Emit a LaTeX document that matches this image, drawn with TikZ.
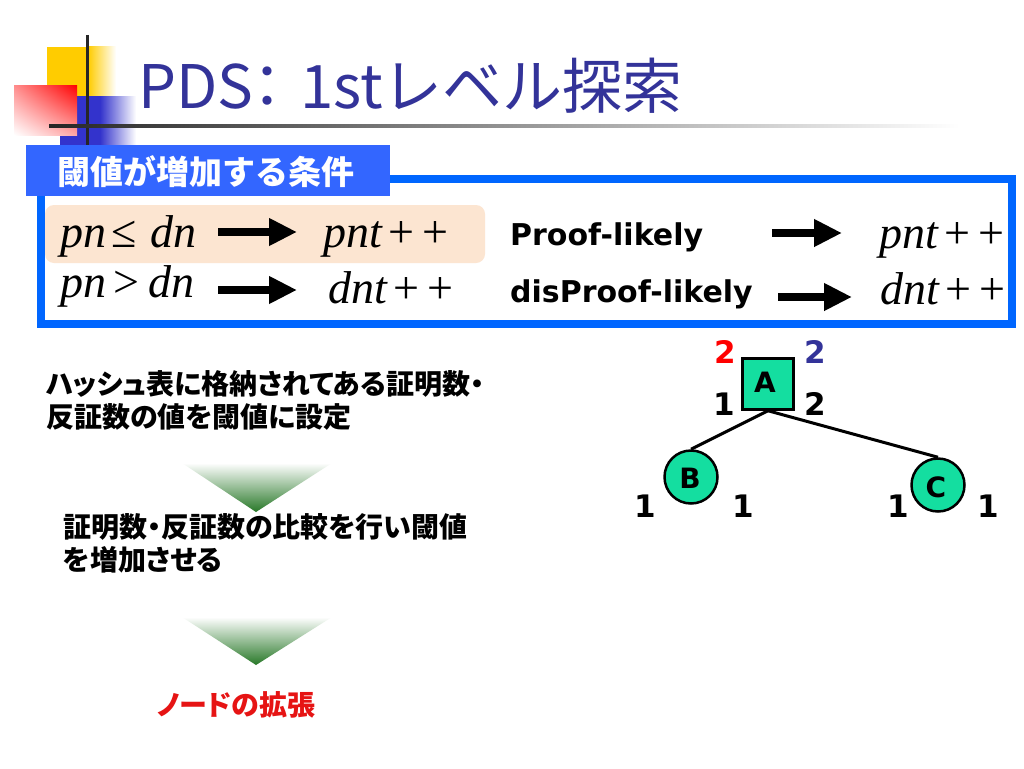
\documentclass[tikz,border=0pt]{standalone}
\usepackage{fontspec}
\usetikzlibrary{arrows.meta,shadings}
\newfontfamily\jp{Noto Sans CJK JP}
\newfontfamily\jpp[RawFeature=+palt]{Noto Sans CJK JP}
\newfontfamily\dvs{DejaVu Sans}
\newfontfamily\tms{Liberation Serif}
\definecolor{titleblue}{RGB}{51,51,153}
\definecolor{tabblue}{RGB}{51,102,255}
\definecolor{boxblue}{RGB}{0,102,255}
\definecolor{peach}{RGB}{252,229,209}
\definecolor{teal}{RGB}{20,222,160}
\definecolor{dgreen}{RGB}{40,120,40}
\definecolor{lred}{RGB}{230,20,20}
\definecolor{logoyellow}{RGB}{255,204,0}
\definecolor{logoblue}{RGB}{51,51,204}
\begin{document}
\begin{tikzpicture}[x=1pt,y=-1pt,
  mathtxt/.style={inner sep=0pt,anchor=base west,font=\tms\fontsize{46}{46}\selectfont},
  boldsans/.style={inner sep=0pt,anchor=base west,font=\dvs\bfseries\fontsize{30}{30}\selectfont},
  bigarrow/.style={line width=8pt,-{Triangle[length=28pt,width=26pt]}},
  jptxt/.style={inner sep=0pt,anchor=west,align=left,font=\jpp\bfseries\fontsize{28}{33}\selectfont},
  numlab/.style={inner sep=0pt,font=\dvs\bfseries\fontsize{31}{31}\selectfont},
  treeedge/.style={line width=3pt},
  gtri/.style={top color=white,bottom color=dgreen}
]
\useasboundingbox (0,0) rectangle (1024,768);
\fill[white] (0,0) rectangle (1024,768);
% logo
\fill[logoyellow] (47,47) rectangle (88,96);
\shade[left color=logoyellow,right color=white] (88,47) rectangle (116,96);
\fill[logoblue] (60,96) rectangle (100,145);
\shade[left color=logoblue,right color=white] (100,96) rectangle (136,145);
\shade[upper right=red,upper left=red!45,lower right=red!35,lower left=white] (14,85) rectangle (77,135);
\draw[line width=3pt,black!85] (87,35) -- (87,145);
\shade[left color=black!85,middle color=black!35,right color=white] (49,124.5) rectangle (960,127.5);
% title
\node[inner sep=0pt,anchor=base west,text=titleblue,font=\jp\fontsize{60}{60}\selectfont] (title) at (138,108) {PDS\kern-16pt：\kern3pt1stレベル探索};
% box
\draw[line width=8pt,boxblue] (41,179) rectangle (1012,324);
\fill[tabblue] (26,145) rectangle (390,196);
\node[inner sep=0pt,anchor=west,text=white,font=\jp\bfseries\fontsize{33}{33}\selectfont] (tab) at (57,172) {閾値が増加する条件};
\fill[peach,rounded corners=9pt] (45,205) rectangle (485,263);
% rows left
\node[mathtxt] (c1) at (60,247) {\textit{pn}\kern5pt≤\kern14pt\textit{dn}};
\node[mathtxt] (r1) at (323,247) {\textit{pnt}\kern6pt+\kern8pt+};
\node[mathtxt] (c2) at (60,297) {\textit{pn}\kern7pt>\kern9pt\textit{dn}};
\node[mathtxt] (r2) at (328,303) {\textit{dnt}\kern6pt+\kern8pt+};
\coordinate (a1s) at (218,232); \coordinate (a1e) at (297,232);
\coordinate (a2s) at (218,290); \coordinate (a2e) at (297,290);
\draw[bigarrow] (a1s) -- (a1e);
\draw[bigarrow] (a2s) -- (a2e);
% rows right
\node[boldsans] (p1) at (510,245) {Proof-likely};
\node[boldsans] (p2) at (510,302) {disProof-likely};
\node[mathtxt] (q1) at (879,248) {\textit{pnt}\kern6pt+\kern8pt+};
\node[mathtxt] (q2) at (880,304) {\textit{dnt}\kern6pt+\kern8pt+};
\coordinate (b1s) at (772,233); \coordinate (b1e) at (842,233);
\coordinate (b2s) at (778,297); \coordinate (b2e) at (852,297);
\draw[bigarrow] (b1s) -- (b1e);
\draw[bigarrow] (b2s) -- (b2e);
% left texts
\node[jptxt] (t1) at (46,400) {ハッシュ表に格納されてある証明数・\\反証数の値を閾値に設定};
\shade[gtri] (182,463) -- (332,463) -- (256,512) -- cycle;
\node[jptxt] (t2) at (63,543) {証明数・反証数の比較を行い閾値\\を増加させる};
\shade[gtri] (182,617) -- (332,617) -- (256,665) -- cycle;
\node[jptxt,text=lred] (t3) at (157,705) {ノードの拡張};
% tree
\node[draw,line width=2.5pt,fill=teal,minimum width=51pt,minimum height=51pt,inner sep=0pt] (A) at (768,384) {};
\node[numlab,font=\dvs\bfseries\fontsize{28}{28}\selectfont] (Al) at (765,382) {A};
\node[draw,circle,line width=2.5pt,fill=teal,minimum size=53pt,inner sep=0pt] (B) at (691,477) {};
\node[numlab,font=\dvs\bfseries\fontsize{28}{28}\selectfont] (Bl) at (690,478) {B};
\node[draw,circle,line width=2.5pt,fill=teal,minimum size=53pt,inner sep=0pt] (C) at (938,485) {};
\node[numlab,font=\dvs\bfseries\fontsize{28}{28}\selectfont] (Cl) at (936,487) {C};
\draw[treeedge] (A.south) -- (B.north);
\draw[treeedge] (A.south) -- (C.north);
\node[numlab,text=red] (pA) at (725,352) {2};
\node[numlab,text=titleblue] (dA) at (815,352) {2};
\node[numlab] (lA) at (724,404) {1};
\node[numlab] (rA) at (815,404) {2};
\node[numlab] (lB) at (645,506) {1};
\node[numlab] (rB) at (743,506) {1};
\node[numlab] (lC) at (898,506) {1};
\node[numlab] (rC) at (988,506) {1};
\end{tikzpicture}
\end{document}
